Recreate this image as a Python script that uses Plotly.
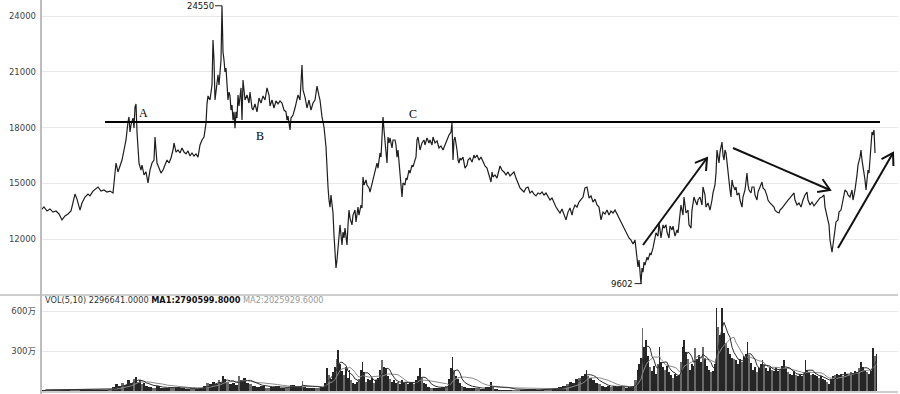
import math
import plotly.graph_objects as go

# ---------------- price data (trading-day index, close) ----------------
price_day = [0,3,6,9,12,15,18,21,24,27,30,32,34,36,39,41,44,47,49,52,55,57,60,63,66,69,72,74,75,77,79,81,83,85,87,88,89,90,92,93,94,95,96,97,98,100,101,103,105,107,109,111,113,114,116,118,120,122,124,126,128,130,132,133,135,137,139,141,143,145,147,149,151,153,155,157,159,161,163,164,165,166,167,169,170,171,172,173,174,175,176,177,178,179,180,181,182,183,184,185,186,187,188,189,190,191,192,193,194,195,196,197,198,200,201,202,204,206,208,209,211,212,214,216,218,220,222,224,226,228,229,231,233,235,237,239,241,243,245,246,247,249,250,252,254,256,257,259,261,262,264,266,268,270,272,274,276,278,279,281,283,285,286,287,288,289,290,291,292,293,294,295,296,297,298,299,300,301,302,303,304,305,306,307,308,309,311,312,314,315,317,318,320,321,322,323,325,326,328,329,331,332,334,336,337,339,340,341,342,343,344,345,346,347,348,349,351,352,354,355,356,357,359,360,361,362,364,365,366,368,369,371,372,374,375,376,377,379,381,383,384,386,388,389,391,392,394,396,398,400,402,404,406,408,410,411,412,413,414,415,416,417,418,419,420,422,424,426,427,429,431,433,434,436,438,440,442,444,446,448,450,451,452,454,456,457,459,461,463,465,467,469,471,473,475,477,479,481,483,485,487,489,491,493,495,497,499,501,503,505,507,509,511,513,515,517,519,521,523,525,527,529,531,532,534,536,538,540,542,544,546,547,548,550,552,554,556,558,560,562,564,566,568,570,572,574,576,578,580,582,584,586,588,590,592,594,595,596,597,598,599,600,601,602,603,604,606,607,609,610,612,613,615,617,618,619,620,622,623,625,626,628,629,631,632,634,636,637,639,640,642,643,645,647,648,650,651,653,654,656,657,659,661,662,664,665,667,669,671,672,674,675,676,677,678,679,680,681,682,683,684,685,686,687,688,689,690,691,692,694,695,696,698,699,701,702,704,706,707,708,710,711,713,714,716,717,719,721,722,724,726,727,729,731,733,734,736,738,739,741,743,745,747,749,751,753,754,756,758,760,762,764,766,767,769,771,773,775,777,779,781,783,784,786,788,789,791,792,793,794,795,797,798,800,802,803,804,806,807,809,811,812,813,814,816,817,819,820,821,822,823,824,825,826,827,828,829,830,831,832,833,834,835,836]
price = [13560,13730,13510,13620,13450,13510,13350,13030,13240,13350,13510,13940,14420,14150,13560,13940,14260,14420,14320,14580,14690,14800,14580,14640,14530,14580,14480,15450,16090,15610,15980,16250,16790,17330,18300,18570,17760,18140,18510,17970,19100,19270,17760,16790,16090,15710,15980,15450,15610,15020,15710,16090,16250,17490,16090,15820,15550,15710,15980,16250,16090,16360,16790,17170,16680,16790,16630,16900,16680,16580,16740,16470,16630,16470,16580,16410,17060,17330,17490,17970,18240,19270,19700,19480,19800,20290,22710,21630,19480,20020,20450,20830,20290,21100,21630,24550,22060,21630,20990,21200,20290,19480,19910,19700,18940,19210,18400,18840,17970,18840,18510,19750,19160,20130,18400,20560,19480,19750,19320,19910,19050,18940,19270,18840,19590,19320,19700,19480,20130,19750,19160,19480,19050,19430,19270,19430,19320,18940,18840,18400,18620,17870,18510,18670,19050,19480,19750,19480,21360,20020,19640,19050,19480,18940,19320,19480,20230,19700,19480,18570,18030,16950,15550,14800,14100,13720,14370,13830,13400,12220,11250,10440,10870,11410,11950,12760,12220,11680,12380,12060,12590,12160,11680,12760,13560,13130,12760,13290,13560,12920,13720,13290,13830,13670,15340,14910,15180,14910,14750,14530,15020,15280,15710,16090,15820,16630,16410,17330,18570,17870,17330,16790,16090,17490,17170,17440,16900,17330,17330,17060,16410,16790,15550,15020,14260,15020,14910,15280,15180,15710,15550,15980,15880,16250,16410,17330,17490,16790,17170,17330,17060,17440,17170,17330,17060,17490,17170,17280,16900,17010,16790,17060,17330,17600,17760,18240,16250,17330,17490,17220,16790,16250,16090,16360,16250,16410,15820,15980,16250,16360,16140,16520,16360,16520,16250,16410,16140,15930,15820,15450,15070,15610,15340,15450,15280,15500,15930,15710,15610,15450,15610,15390,15500,15610,15280,15020,14750,14640,14530,14750,14800,14480,14580,14420,14320,14480,14420,14530,14370,14480,14260,14100,14210,13940,13720,13560,13400,13620,13290,13030,13450,13670,13290,13560,13830,13720,13990,14100,14260,14750,14800,14530,14210,14320,13990,14150,13830,13720,13030,13450,13350,13560,13290,13510,13400,13560,13350,13130,12920,12650,12430,12220,12060,11950,11730,11950,11410,11140,10500,10870,10070,9602,10440,10220,10760,10600,11030,10870,11250,11140,11520,11790,12330,12160,12860,12490,12060,12760,12590,12760,12380,12060,12700,12490,12700,12160,12490,12330,13130,13830,13290,14260,13400,13560,12760,12590,13560,14260,14100,13830,14100,14260,13830,14800,14370,13720,13940,13560,14100,14480,14910,15550,16790,16360,16090,16680,16900,17220,16520,16250,16790,16630,16140,15550,15180,14640,14260,15180,14910,14640,14800,14370,14480,14100,13720,14260,14640,15550,14910,14640,14480,14800,14800,14370,14100,14530,14800,15070,14750,14640,14320,14100,13940,13830,13720,13560,13450,13400,13560,13670,13830,13940,14100,14210,14320,14480,14100,13830,13940,13720,14100,14370,14530,14100,13830,13990,13780,13940,14100,14210,14260,14370,13720,13290,12760,11950,11300,11680,12220,12490,12920,13030,13450,13560,14100,14260,14640,14530,14370,14260,14640,14100,14530,14640,15450,15980,16410,16790,16250,15980,15550,15180,14640,15180,15710,15550,16250,16630,17760,17600,17870,16630]

# ---------------- volume data (trading-day index, volume in 万 shares) ----------------
vol_day = [0,9,19,29,39,49,59,67,71,74,77,80,83,86,89,92,94,96,98,100,102,104,107,111,115,119,124,129,134,139,144,149,154,159,162,165,168,171,174,177,179,181,183,185,188,191,194,197,199,202,205,208,211,215,219,224,229,234,239,244,249,254,259,261,262,265,269,274,279,283,285,287,289,291,293,295,296,298,300,302,304,306,308,309,311,313,315,317,319,321,322,324,326,328,330,332,334,336,338,340,342,344,346,348,350,352,354,356,358,360,362,364,366,368,370,372,374,376,378,380,382,384,386,389,392,396,400,404,407,409,411,412,414,416,418,420,422,425,429,434,439,444,449,451,453,457,464,471,479,487,495,503,511,517,521,525,528,531,534,537,540,543,545,546,548,551,554,557,560,563,566,569,572,575,578,581,584,587,590,593,596,597,599,601,602,604,606,608,610,612,614,616,618,619,621,623,625,627,629,631,633,635,637,639,641,642,644,646,648,650,652,653,655,657,659,661,663,665,667,669,671,673,675,676,678,680,682,684,686,688,690,692,694,696,698,700,702,704,706,707,709,711,713,715,717,719,721,722,724,726,728,730,732,734,736,738,740,742,744,746,748,750,752,754,756,758,760,762,764,765,767,769,771,773,775,777,779,781,783,785,787,789,791,793,795,797,799,801,803,805,807,809,811,813,815,817,819,821,823,825,827,829,831,833,835,836]
vol_wan = [8,10,6,8,12,8,10,15,30,50,35,60,45,80,60,90,105,70,85,50,60,40,30,25,35,20,25,20,30,20,15,20,15,25,40,60,50,70,55,80,60,110,90,70,50,60,45,110,80,100,60,50,40,30,35,25,30,35,20,30,45,30,35,75,30,20,20,25,30,60,170,120,90,140,180,240,310,200,150,120,180,100,160,80,60,50,70,90,160,220,140,70,90,80,100,60,80,100,160,230,180,170,110,90,70,80,60,70,50,80,60,70,50,60,70,50,80,110,170,100,60,50,30,20,25,20,30,40,90,170,255,160,110,90,60,40,30,25,20,20,15,30,70,30,15,10,8,10,8,12,10,15,20,30,40,50,70,60,90,100,110,130,160,110,100,80,60,50,40,30,35,30,40,30,35,30,25,30,35,80,160,200,250,470,330,380,260,180,150,190,130,200,330,220,180,160,190,140,120,100,130,110,120,220,330,380,290,240,160,200,190,320,240,270,220,330,250,190,160,140,150,200,620,480,420,620,435,360,320,280,250,240,230,200,240,220,260,280,370,270,210,160,180,140,170,200,230,200,170,150,180,160,150,180,150,160,190,230,170,140,130,120,150,120,110,130,110,140,230,160,140,120,130,120,110,100,110,90,80,70,55,90,110,120,130,120,130,110,140,130,120,140,130,150,140,170,220,180,160,140,130,150,320,260,280]

# ---------------- labels / ticks ----------------
price_ticks = [12000, 15000, 18000, 21000, 24000]
vol_ticks = [300, 600]
vol_tick_text = ["300万", "600万"]
level_day = [64, 839]
level_price = [18300, 18300]
high_day, high_price = 181, 24550
low_day, low_price = 601, 9602
point_labels = [("A", 102, 18780), ("B", 219, 17540), ("C", 372, 18730)]
trend_arrows = [((602, 11680), (666, 16360)), ((692, 16900), (789, 14640)), ((797, 11520), (852, 16630))]
vol_header = "VOL(5,10) 2296641.0000"
ma1_text = "MA1:2790599.8000"
ma2_text = "MA2:2025929.6000"

# ---------------- geometry ----------------
W, H = 900, 394
ML, MR = 41, 2
PLOT_W = W - ML - MR
X_RANGE = [0, PLOT_W]
PRICE_RANGE = [8990, 24861]
PRICE_DOMAIN = [99 / H, 1]
VOL_RANGE = [-7.5, 712.5]
VOL_DOMAIN = [2 / H, 98 / H]


def moving_avg(vals, n):
    out = []
    for i in range(len(vals)):
        w = vals[max(0, i - n + 1): i + 1]
        out.append(sum(w) / len(w))
    return out


widths = [vol_day[i + 1] - vol_day[i] for i in range(len(vol_day) - 1)] + [1]
bar_x = [d + w / 2 for d, w in zip(vol_day, widths)]
bar_colors = ["#6a6a6a" if i % 4 == 3 else "#262626" for i in range(len(vol_day))]

fig = go.Figure()
fig.add_trace(go.Scatter(x=price_day, y=price, mode="lines",
                         line=dict(color="#1e1e1e", width=1.2), xaxis="x", yaxis="y"))
fig.add_trace(go.Scatter(x=level_day, y=level_price, mode="lines",
                         line=dict(color="#000", width=2), xaxis="x", yaxis="y"))
fig.add_trace(go.Bar(x=bar_x, y=vol_wan, width=widths,
                     marker=dict(color=bar_colors, line=dict(width=0)),
                     xaxis="x2", yaxis="y2"))
fig.add_trace(go.Scatter(x=bar_x, y=moving_avg(vol_wan, 10), mode="lines",
                         line=dict(color="#8a8a8a", width=1), xaxis="x2", yaxis="y2"))
fig.add_trace(go.Scatter(x=bar_x, y=moving_avg(vol_wan, 5), mode="lines",
                         line=dict(color="#303030", width=1), xaxis="x2", yaxis="y2"))

# hand-drawn trend arrows with open chevron heads
px_per_day = PLOT_W / (X_RANGE[1] - X_RANGE[0])
px_per_price = (H * (PRICE_DOMAIN[1] - PRICE_DOMAIN[0])) / (PRICE_RANGE[1] - PRICE_RANGE[0])
for (d0, v0), (d1, v1) in trend_arrows:
    dx = (d1 - d0) * px_per_day
    dy = (v1 - v0) * px_per_price
    ang = math.atan2(dy, dx)
    wing_x, wing_y = [], []
    for s in (1, -1):
        a = ang + math.pi + s * math.radians(32)
        wing_x.append(d1 + 13 * math.cos(a) / px_per_day)
        wing_y.append(v1 + 13 * math.sin(a) / px_per_price)
    fig.add_trace(go.Scatter(x=[d0, d1, None, wing_x[0], d1, wing_x[1]],
                             y=[v0, v1, None, wing_y[0], v1, wing_y[1]],
                             mode="lines", line=dict(color="#111", width=2), xaxis="x", yaxis="y"))

ann = []
ann.append(dict(x=high_day, y=high_price, xref="x", yref="y", text=str(high_price), showarrow=True,
                arrowhead=0, arrowwidth=1, arrowcolor="#222", ax=-22, ay=0,
                font=dict(family="DejaVu Sans", size=8.5, color="#111")))
ann.append(dict(x=low_day, y=low_price, xref="x", yref="y", text=str(low_price), showarrow=True,
                arrowhead=0, arrowwidth=1, arrowcolor="#222", ax=-20, ay=0,
                font=dict(family="DejaVu Sans", size=8.5, color="#111")))
for t, d, v in point_labels:
    ann.append(dict(x=d, y=v, xref="x", yref="y", text=t, showarrow=False,
                    font=dict(family="Liberation Serif", size=12, color="#000")))
ann.append(dict(x=0.002, y=680, xref="paper", yref="y2", xanchor="left", yanchor="middle",
                text=f"<span style='color:#333'>{vol_header} </span><b style='color:#111'>{ma1_text}</b> <span style='color:#999'>{ma2_text}</span>",
                showarrow=False, font=dict(family="DejaVu Sans", size=8.2)))

axis_common = dict(showline=False, zeroline=False, ticks="", automargin=False)
fig.update_layout(
    template="none",
    width=W, height=H, margin=dict(l=ML, r=MR, t=0, b=0, pad=0),
    paper_bgcolor="#fff", plot_bgcolor="#fff", showlegend=False, bargap=0,
    xaxis=dict(domain=[0, 1], range=X_RANGE, showgrid=False, showticklabels=False, anchor="y", **axis_common),
    xaxis2=dict(domain=[0, 1], range=X_RANGE, showgrid=False, showticklabels=False, anchor="y2", **axis_common),
    yaxis=dict(domain=PRICE_DOMAIN, range=PRICE_RANGE, tickvals=price_ticks, ticktext=[str(v) for v in price_ticks],
               showgrid=True, gridcolor="#e9e9e9", gridwidth=1, anchor="x",
               tickfont=dict(family="DejaVu Sans", size=8.5, color="#444"), ticklabelstandoff=4, **axis_common),
    yaxis2=dict(domain=VOL_DOMAIN, range=VOL_RANGE, tickvals=vol_ticks, ticktext=vol_tick_text,
                showgrid=True, gridcolor="#e9e9e9", gridwidth=1, anchor="x2",
                tickfont=dict(family="DejaVu Sans, Noto Sans CJK SC", size=8.5, color="#444"), ticklabelstandoff=4, **axis_common),
    annotations=ann,
    shapes=[
        dict(type="line", xref="paper", yref="paper", x0=0, x1=0, y0=0, y1=1, line=dict(color="#bdbdbd", width=2)),
        dict(type="line", xref="paper", yref="paper", x0=-ML / PLOT_W, x1=1, y0=99 / H, y1=99 / H, line=dict(color="#bdbdbd", width=1.5)),
        dict(type="line", xref="paper", yref="paper", x0=0, x1=1, y0=2 / H, y1=2 / H, line=dict(color="#bdbdbd", width=1.5)),
    ],
)

fig.write_html("out.html", config={"displayModeBar": False, "staticPlot": True},
               post_script="document.body.style.margin='0';document.body.style.overflow='hidden';")
